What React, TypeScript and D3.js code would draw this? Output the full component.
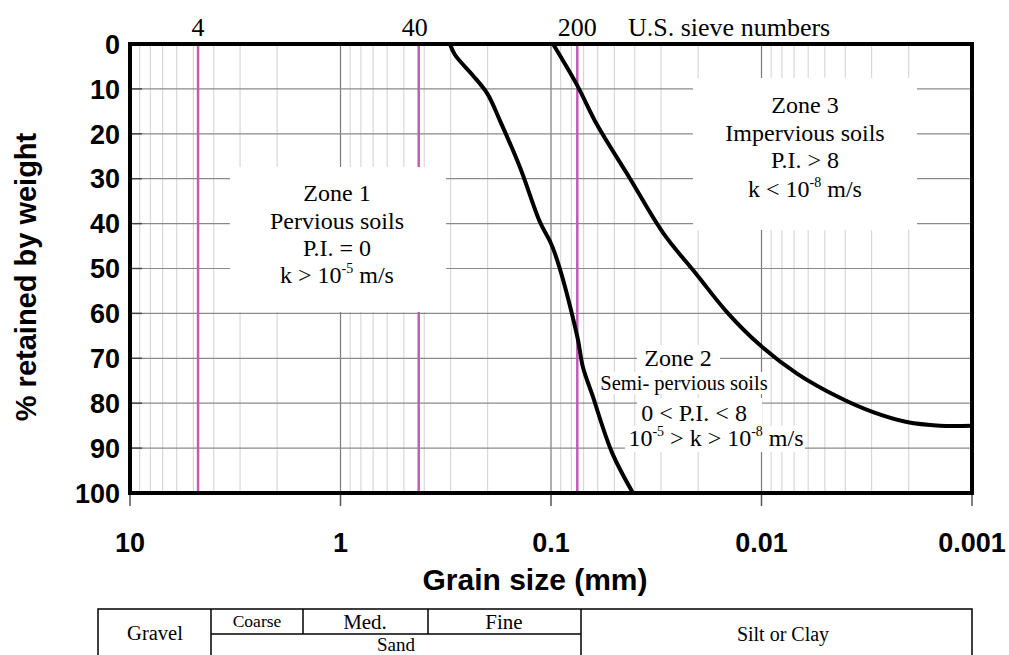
import React from "react";
import * as d3 from "d3";

// Grain size (mm) vs % retained by weight
const curveCoarseSize = [0.302, 0.286, 0.235, 0.201, 0.175, 0.14, 0.113, 0.098, 0.0753, 0.0705, 0.0638, 0.0513, 0.0408];
const curveCoarsePct = [0, 2.4, 7, 11, 17, 27.6, 39.6, 45.4, 64.8, 72, 78, 91, 100];
const curveFineSize = [0.0978, 0.0753, 0.0604, 0.0421, 0.0294, 0.0202, 0.0146, 0.0102, 0.00678, 0.00424, 0.00295, 0.00204, 0.00142, 0.001];
const curveFinePct = [0, 9.1, 18, 30, 42, 51.5, 59.7, 67, 73.4, 78.8, 82, 84.2, 85, 85];

const sieveNumbers = ["4", "40", "200"];
const sieveSizes = [4.75, 0.425, 0.075];
const xTicks = [10, 1, 0.1, 0.01, 0.001];
const xTickLabels = ["10", "1", "0.1", "0.01", "0.001"];
const yTicks = [0, 10, 20, 30, 40, 50, 60, 70, 80, 90, 100];

const W = 1009, H = 655;
const L = 130, R = 972, T = 44, B = 493;

const serif = "'Liberation Serif', 'Times New Roman', serif";
const sans = "'Liberation Sans', Arial, sans-serif";

export default function App() {
  const x = d3.scaleLog().domain([10, 0.001]).range([L, R]);
  const y = d3.scaleLinear().domain([0, 100]).range([T, B]);

  const minor: number[] = [];
  [1, 0.1, 0.01, 0.001].forEach((dec) => {
    for (let k = 2; k <= 9; k++) minor.push(dec * k);
  });

  const line = d3
    .line<[number, number]>()
    .x((d) => x(d[0]))
    .y((d) => y(d[1]))
    .curve(d3.curveCatmullRom.alpha(0.5));
  const coarse = curveCoarseSize.map((s, i) => [s, curveCoarsePct[i]] as [number, number]);
  const fine = curveFineSize.map((s, i) => [s, curveFinePct[i]] as [number, number]);

  const sup = (t: string) => (
    <tspan fontSize={14} dy={-10}>
      {t}
    </tspan>
  );

  return (
    <svg width={W} height={H} style={{ position: "absolute", left: 0, top: 0, background: "#fff" }}>
      <rect x={0} y={0} width={W} height={H} fill="#fff" />
      {/* minor vertical grid */}
      {minor.map((v, i) => (
        <line key={"mv" + i} x1={x(v)} x2={x(v)} y1={T} y2={B} stroke="#d8d8d8" strokeWidth={1.2} />
      ))}
      {/* decade lines */}
      {xTicks.slice(1, 4).map((v, i) => (
        <line key={"dv" + i} x1={x(v)} x2={x(v)} y1={T} y2={B} stroke="#7a7a7a" strokeWidth={1.2} />
      ))}
      {/* horizontal grid */}
      {yTicks.slice(1, 10).map((v, i) => (
        <line key={"hg" + i} x1={L} x2={R} y1={y(v)} y2={y(v)} stroke="#8a8a8a" strokeWidth={1.2} />
      ))}
      {yTicks.slice(1, 10).map((v, i) => (
        <line key={"ht" + i} x1={L} x2={L + 12} y1={y(v)} y2={y(v)} stroke="#444" strokeWidth={1.4} />
      ))}
      {/* sieve lines */}
      {sieveSizes.map((s, i) => (
        <line key={"sv" + i} x1={x(s)} x2={x(s)} y1={T} y2={B} stroke="#c25cb4" strokeWidth={2.5} />
      ))}

      {/* Zone 1 box */}
      <rect x={230} y={167} width={216} height={145} fill="#fff" />
      {/* Zone 3 box */}
      <rect x={693} y={78} width={224} height={152} fill="#fff" />
      {/* Zone 2 line backgrounds */}
      <rect x={637} y={345} width={83} height={26} fill="#fff" />
      <rect x={598} y={372} width={172} height={22} fill="#fff" />
      <rect x={637} y={398} width={125} height={28} fill="#fff" />
      <rect x={625} y={426} width={180} height={26} fill="#fff" />

      {/* curves */}
      <path d={line(coarse) || ""} fill="none" stroke="#000" strokeWidth={4} strokeLinejoin="round" />
      <path d={line(fine) || ""} fill="none" stroke="#000" strokeWidth={4} strokeLinejoin="round" />

      {/* frame */}
      <rect x={L} y={T} width={R - L} height={B - T} fill="none" stroke="#000" strokeWidth={4} />

      {/* bottom ticks */}
      {xTicks.map((v, i) => (
        <line key={"bt" + i} x1={x(v)} x2={x(v)} y1={B + 2} y2={B + 13} stroke="#555" strokeWidth={1.5} />
      ))}

      {/* y tick labels */}
      {yTicks.map((v, i) => (
        <text key={"yl" + i} x={120} y={y(v)} dy="0.36em" textAnchor="end" fontFamily={sans} fontWeight="bold" fontSize={27}>
          {v}
        </text>
      ))}
      {/* x tick labels */}
      {xTicks.map((v, i) => (
        <text key={"xl" + i} x={x(v)} y={552} textAnchor="middle" fontFamily={sans} fontWeight="bold" fontSize={27}>
          {xTickLabels[i]}
        </text>
      ))}
      <text x={535} y={590} textAnchor="middle" fontFamily={sans} fontWeight="bold" fontSize={30}>
        Grain size (mm)
      </text>
      <text transform="translate(36,277) rotate(-90)" textAnchor="middle" fontFamily={sans} fontWeight="bold" fontSize={29}>
        % retained by weight
      </text>

      {/* sieve labels */}
      {sieveSizes.map((s, i) => (
        <text key={"sl" + i} x={x(s) - (i === 1 ? 4 : 0)} y={36} textAnchor="middle" fontFamily={serif} fontSize={26}>
          {sieveNumbers[i]}
        </text>
      ))}
      <text x={628} y={36} fontFamily={serif} fontSize={26}>
        U.S. sieve numbers
      </text>

      {/* zone texts */}
      <g fontFamily={serif} fontSize={24} textAnchor="middle">
        <text x={337} y={201}>Zone 1</text>
        <text x={337} y={229}>Pervious soils</text>
        <text x={337} y={256}>P.I. = 0</text>
        <text x={337} y={283}>
          k &gt; 10{sup("-5")}
          <tspan dy={10}> m/s</tspan>
        </text>

        <text x={805} y={113}>Zone 3</text>
        <text x={805} y={141}>Impervious soils</text>
        <text x={805} y={168}>P.I. &gt; 8</text>
        <text x={805} y={197}>
          k &lt; 10{sup("-8")}
          <tspan dy={10}> m/s</tspan>
        </text>

        <text x={678} y={366}>Zone 2</text>
        <text x={684} y={390} fontSize={20.5}>Semi- pervious soils</text>
        <text x={694} y={421}>0 &lt; P.I. &lt; 8</text>
        <text x={716} y={446}>
          10{sup("-5")}
          <tspan dy={10}> &gt; k &gt; 10</tspan>
          {sup("-8")}
          <tspan dy={10}> m/s</tspan>
        </text>
      </g>

      {/* classification table */}
      <g stroke="#000" strokeWidth={1.5} fill="none">
        <rect x={98} y={609} width={874} height={60} />
        <line x1={211} x2={211} y1={609} y2={669} />
        <line x1={581} x2={581} y1={609} y2={669} />
        <line x1={211} x2={581} y1={634} y2={634} />
        <line x1={303} x2={303} y1={609} y2={634} />
        <line x1={428} x2={428} y1={609} y2={634} />
      </g>
      <g fontFamily={serif} textAnchor="middle">
        <text x={155} y={640} fontSize={20.5}>Gravel</text>
        <text x={257} y={627} fontSize={17.5}>Coarse</text>
        <text x={365} y={629} fontSize={21}>Med.</text>
        <text x={504} y={629} fontSize={21}>Fine</text>
        <text x={396} y={651} fontSize={19}>Sand</text>
        <text x={783} y={641} fontSize={20}>Silt or Clay</text>
      </g>
    </svg>
  );
}
